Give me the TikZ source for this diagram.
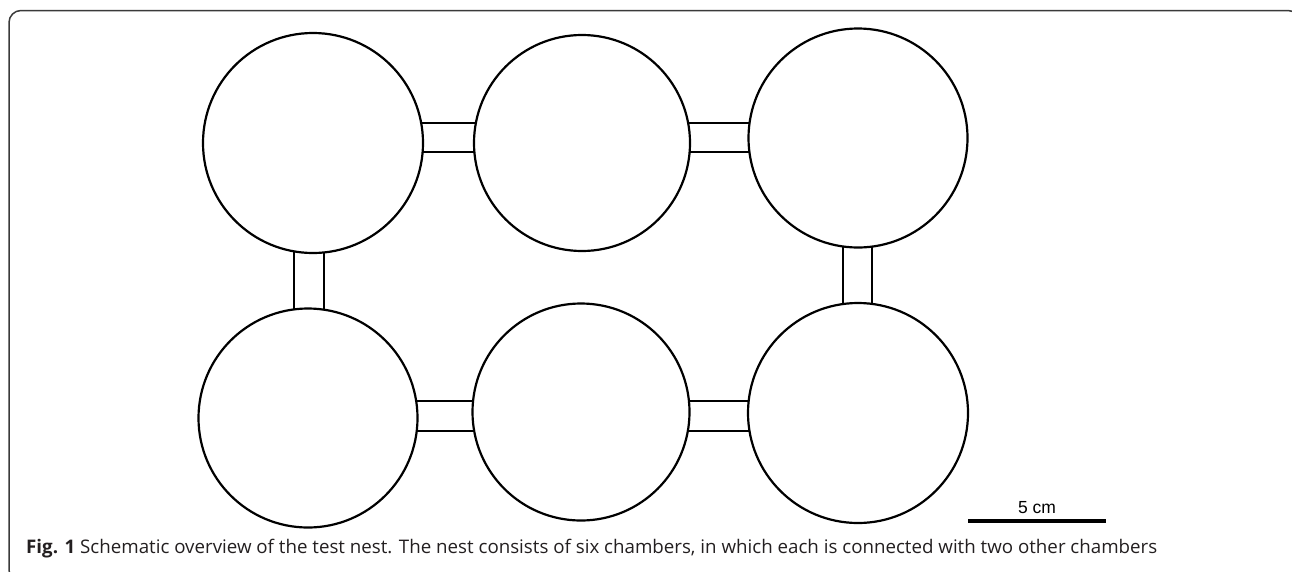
\documentclass[tikz,border=0pt]{standalone}
\usepackage{fontspec}
\setmainfont{Open Sans}
\newfontfamily\barfont{Liberation Sans}
\usetikzlibrary{backgrounds,calc}
\definecolor{framegray}{HTML}{3A3A3A}
\definecolor{captext}{HTML}{231F20}
\tikzset{
  chamber/.style={circle, draw=black, fill=white, line width=2.2pt, inner sep=0pt, minimum size=#1},
  tube/.style={draw=black, line width=2.1pt},
  frameline/.style={draw=framegray, line width=1.5pt, rounded corners=12pt},
  scalebar/.style={draw=black, line width=3.3pt},
}
\begin{document}
\begin{tikzpicture}[x=1pt,y=-1pt]
\useasboundingbox (0,0) rectangle (1292,571);
\path[frameline] (9,10.5) rectangle (1300,582);
% chambers
\node[chamber=220pt] (c1) at (313,143) {};
\node[chamber=216pt] (c2) at (582,143) {};
\node[chamber=219pt] (c3) at (858,138) {};
\node[chamber=219pt] (c4) at (308,418) {};
\node[chamber=217pt] (c5) at (581,412) {};
\node[chamber=220pt] (c6) at (858,413) {};
% connecting tubes
\begin{pgfonlayer}{background}
\draw[tube] (c1.center |- {(0,123)}) rectangle (c2.center |- {(0,152)});
\draw[tube] (c2.center |- {(0,123)}) rectangle (c3.center |- {(0,152)});
\draw[tube] (c4.center |- {(0,401)}) rectangle (c5.center |- {(0,431)});
\draw[tube] (c5.center |- {(0,401)}) rectangle (c6.center |- {(0,431)});
\draw[tube] (c1.center -| {(294,0)}) rectangle (c4.center -| {(324,0)});
\draw[tube] (c3.center -| {(843,0)}) rectangle (c6.center -| {(872,0)});
\end{pgfonlayer}
% scale bar
\coordinate (sbL) at (968,521);
\coordinate (sbR) at (1106,521);
\draw[scalebar] (sbL) -- (sbR) node[midway, above=6pt, inner sep=0pt, font=\barfont\fontsize{17.5}{21}\selectfont] (sblabel) {5 cm};
% caption
\node[anchor=base west, inner sep=0pt, text=captext] (caption) at (26,553)
  {\resizebox{1131pt}{!}{\fontsize{16}{20}\selectfont\textbf{Fig. 1} Schematic overview of the test nest. The nest consists of six chambers, in which each is connected with two other chambers}};
\end{tikzpicture}
\end{document}
